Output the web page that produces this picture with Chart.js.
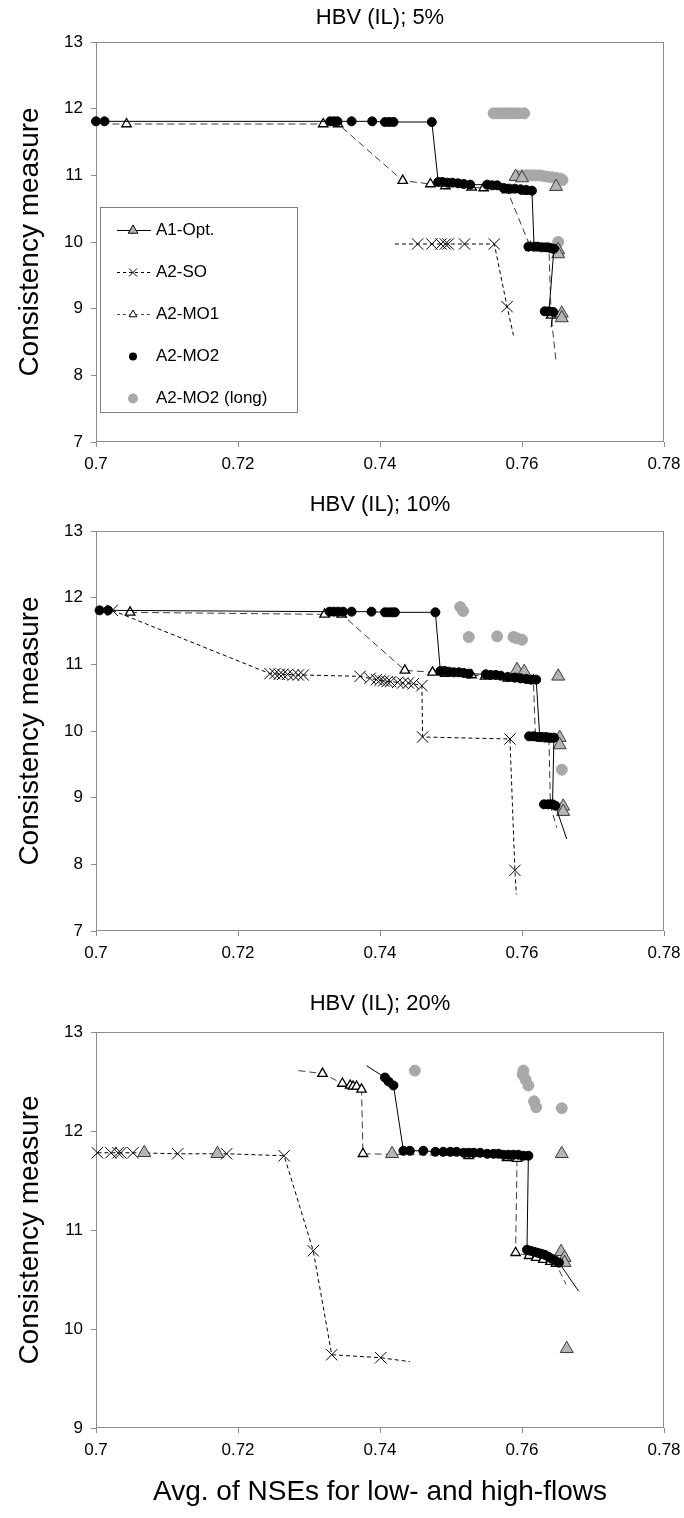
<!DOCTYPE html>
<html>
<head>
<meta charset="utf-8">
<title>HBV (IL) consistency</title>
<script src="https://cdn.jsdelivr.net/npm/chart.js@4.4.1/dist/chart.umd.min.js"></script>
<style>
  html, body { margin: 0; padding: 0; background: #fff; }
  body { width: 684px; height: 1518px; position: relative; overflow: hidden; }
  canvas { position: absolute; left: 0; }
</style>
</head>
<body>
<canvas id="c5" width="684" height="480" style="top:0px"></canvas>
<canvas id="c10" width="684" height="490" style="top:480px"></canvas>
<canvas id="c20" width="684" height="548" style="top:970px"></canvas>
<script>
// axis ticks and names
const X_TICKS = [0.7, 0.72, 0.74, 0.76, 0.78];
const Y_TICKS_LOW = [7, 8, 9, 10, 11, 12, 13];
const Y_TICKS_HIGH = [9, 10, 11, 12, 13];
const NAMES = ['A1-Opt.', 'A2-SO', 'A2-MO1', 'A2-MO2', 'A2-MO2 (long)'];
const TITLES = ['HBV (IL); 5%', 'HBV (IL); 10%', 'HBV (IL); 20%'];

// ---- HBV (IL); 5% ----  [avg NSE, consistency]
const P5_OPT = [[0.7591,10.98],[0.7600,10.96],[0.7648,10.83],[0.7651,9.88],[0.7651,9.82],[0.7656,8.93],[0.7656,8.86]];
const P5_SO = [[0.7421,9.97],[0.7453,9.97],[0.7473,9.97],[0.7486,9.97],[0.7492,9.97],[0.7496,9.97],[0.7519,9.97],[0.7561,9.97],[0.7579,9.03],[0.7588,8.60]];
const P5_MO1 = [[0.7023,11.77],[0.7043,11.77],[0.7320,11.77],[0.7341,11.77],[0.7432,10.92],[0.7471,10.87],[0.7492,10.84],[0.7529,10.82],[0.7546,10.81],[0.7605,10.76],[0.7579,10.78],[0.7612,9.92],[0.7638,9.90],[0.7641,8.90],[0.7648,8.20]];
const P5_MO2 = [[0.7000,11.81],[0.7012,11.81],[0.7330,11.81],[0.7335,11.81],[0.7340,11.81],[0.7360,11.81],[0.7389,11.81],[0.7407,11.80],[0.7413,11.80],[0.7419,11.80],[0.7473,11.80],[0.7482,10.90],[0.7488,10.90],[0.7495,10.89],[0.7502,10.89],[0.7510,10.88],[0.7518,10.87],[0.7527,10.86],[0.7551,10.86],[0.7558,10.85],[0.7565,10.85],[0.7574,10.81],[0.7582,10.80],[0.7590,10.80],[0.7598,10.79],[0.7606,10.78],[0.7614,10.77],[0.7617,9.93],[0.7609,9.93],[0.7622,9.93],[0.7628,9.92],[0.7634,9.92],[0.7640,9.91],[0.7645,9.90],[0.7638,8.96],[0.7632,8.96],[0.7644,8.95],[0.7641,8.72]];
const P5_LONG = [[0.7560,11.93],[0.7566,11.93],[0.7572,11.93],[0.7578,11.93],[0.7584,11.93],[0.7590,11.93],[0.7596,11.93],[0.7603,11.93],[0.7594,10.99],[0.7600,11.00],[0.7606,11.00],[0.7612,11.00],[0.7618,11.00],[0.7624,11.00],[0.7630,10.99],[0.7636,10.98],[0.7642,10.97],[0.7648,10.96],[0.7654,10.95],[0.7657,10.93],[0.7651,10.00]];
// indices that only bend a line and carry no marker
const P5_SO_BARE = [0, 9];
const P5_MO1_BARE = [0, 14];
const P5_MO2_BARE = [37];

// ---- HBV (IL); 10% ----
const P10_OPT = [[0.7593,10.92],[0.7603,10.89],[0.7651,10.82],[0.7653,9.90],[0.7653,9.79],[0.7658,8.87],[0.7658,8.79]];
const P10_SO = [[0.7023,11.81],[0.7245,10.86],[0.7252,10.86],[0.7258,10.85],[0.7263,10.85],[0.7270,10.85],[0.7278,10.84],[0.7285,10.84],[0.7292,10.84],[0.7372,10.82],[0.7386,10.79],[0.7395,10.77],[0.7400,10.76],[0.7405,10.75],[0.7410,10.74],[0.7415,10.74],[0.7425,10.73],[0.7432,10.72],[0.7440,10.72],[0.7447,10.71],[0.7459,10.68],[0.7460,9.91],[0.7583,9.88],[0.7590,7.91],[0.7592,7.55]];
const P10_MO1 = [[0.7048,11.78],[0.7322,11.75],[0.7346,11.75],[0.7435,10.91],[0.7474,10.88],[0.7492,10.86],[0.7529,10.84],[0.7548,10.82],[0.7580,10.79],[0.7605,10.77],[0.7616,10.76],[0.7619,9.90],[0.7638,9.88],[0.7640,8.88],[0.7649,8.55]];
const P10_MO2 = [[0.7005,11.81],[0.7017,11.81],[0.7329,11.79],[0.7335,11.79],[0.7341,11.79],[0.7348,11.79],[0.7360,11.79],[0.7388,11.79],[0.7407,11.78],[0.7412,11.78],[0.7417,11.78],[0.7421,11.78],[0.7478,11.78],[0.7485,10.90],[0.7491,10.90],[0.7497,10.89],[0.7504,10.88],[0.7511,10.88],[0.7518,10.87],[0.7525,10.86],[0.7549,10.85],[0.7556,10.84],[0.7563,10.84],[0.7570,10.83],[0.7580,10.81],[0.7590,10.80],[0.7598,10.79],[0.7606,10.78],[0.7613,10.77],[0.7620,10.77],[0.7625,9.91],[0.7610,9.92],[0.7616,9.92],[0.7622,9.91],[0.7628,9.91],[0.7634,9.91],[0.7640,9.90],[0.7645,9.90],[0.7643,8.90],[0.7637,8.90],[0.7631,8.90],[0.7647,8.88],[0.7663,8.38]];
const P10_LONG = [[0.7513,11.86],[0.7517,11.80],[0.7525,11.41],[0.7565,11.42],[0.7588,11.41],[0.7593,11.39],[0.7600,11.37],[0.7656,9.42]];
const P10_SO_BARE = [24];
const P10_MO1_BARE = [14];
const P10_MO2_BARE = [42];

// ---- HBV (IL); 20% ----
const P20_OPT = [[0.7068,11.78],[0.7171,11.77],[0.7417,11.77],[0.7656,11.77],[0.7655,10.78],[0.7660,10.72],[0.7660,10.67],[0.7663,9.80]];
const P20_SO = [[0.7002,11.78],[0.7021,11.78],[0.7031,11.78],[0.7035,11.78],[0.7052,11.78],[0.7115,11.77],[0.7184,11.77],[0.7265,11.75],[0.7306,10.79],[0.7332,9.74],[0.7401,9.71],[0.7442,9.67]];
const P20_MO1 = [[0.7285,12.61],[0.7319,12.58],[0.7347,12.48],[0.7358,12.46],[0.7362,12.45],[0.7367,12.45],[0.7374,12.42],[0.7376,11.77],[0.7525,11.75],[0.7579,11.73],[0.7593,11.72],[0.7591,10.77],[0.7610,10.74],[0.7620,10.72],[0.7630,10.70],[0.7640,10.68],[0.7648,10.66],[0.7662,10.45]];
const P20_MO2 = [[0.7381,12.66],[0.7407,12.54],[0.7412,12.50],[0.7419,12.46],[0.7433,11.80],[0.7442,11.80],[0.7461,11.80],[0.7478,11.79],[0.7489,11.79],[0.7499,11.79],[0.7508,11.79],[0.7518,11.78],[0.7525,11.78],[0.7532,11.78],[0.7541,11.78],[0.7551,11.77],[0.7560,11.77],[0.7567,11.77],[0.7574,11.76],[0.7581,11.76],[0.7588,11.76],[0.7595,11.76],[0.7602,11.75],[0.7609,11.75],[0.7607,10.80],[0.7612,10.79],[0.7617,10.78],[0.7622,10.77],[0.7627,10.76],[0.7632,10.75],[0.7637,10.73],[0.7642,10.71],[0.7647,10.69],[0.7652,10.67],[0.7680,10.38]];
const P20_LONG = [[0.7449,12.61],[0.7602,12.61],[0.7601,12.57],[0.7605,12.52],[0.7609,12.46],[0.7617,12.30],[0.7620,12.24],[0.7656,12.23]];
const P20_SO_BARE = [11];
const P20_MO1_BARE = [0, 17];
const P20_MO2_BARE = [0, 34];

const FONT = '"Liberation Sans", Arial, Helvetica, sans-serif';
Chart.defaults.font.family = FONT;
Chart.defaults.color = '#000';

function toXY(list) {
  return list.map(p => ({ x: p[0], y: p[1] }));
}
function radii(list, r, bare) {
  return list.map((p, i) => (bare.indexOf(i) >= 0 ? 0 : r));
}

function buildSets(s) {
  const common = { clip: false, tension: 0, fill: false, pointHitRadius: 0 };
  return [
    Object.assign({
      label: NAMES[0], data: toXY(s.opt), showLine: false,
      pointStyle: 'triangle', pointRadius: 7.5,
      pointBackgroundColor: '#b4b4b4', pointBorderColor: '#3a3a3a', pointBorderWidth: 1, order: 1
    }, common),
    Object.assign({
      label: NAMES[1], data: toXY(s.so), showLine: true,
      borderColor: '#000', borderWidth: 1, borderDash: [4, 3],
      pointStyle: 'crossRot', pointRadius: radii(s.so, 8, s.soBare),
      pointBorderColor: '#000', pointBorderWidth: 1, order: 2
    }, common),
    Object.assign({
      label: NAMES[2], data: toXY(s.mo1), showLine: true,
      borderColor: '#3c3c3c', borderWidth: 1, borderDash: [7, 4],
      pointStyle: 'triangle', pointRadius: radii(s.mo1, 5.5, s.mo1Bare),
      pointBackgroundColor: '#fff', pointBorderColor: '#000', pointBorderWidth: 1.3, order: 3
    }, common),
    Object.assign({
      label: NAMES[3], data: toXY(s.mo2), showLine: true,
      borderColor: '#000', borderWidth: 1,
      pointStyle: 'circle', pointRadius: radii(s.mo2, 4.5, s.mo2Bare),
      pointBackgroundColor: '#000', pointBorderColor: '#000', pointBorderWidth: 1, order: 0
    }, common),
    Object.assign({
      label: NAMES[4], data: toXY(s.long), showLine: false,
      pointStyle: 'circle', pointRadius: 5.5,
      pointBackgroundColor: '#a8a8a8', pointBorderColor: '#a8a8a8', pointBorderWidth: 1, order: 4
    }, common)
  ];
}

// grey box round the plot area
const frame = {
  id: 'frame',
  beforeDatasetsDraw(chart) {
    const { ctx, chartArea: a } = chart;
    ctx.save();
    ctx.strokeStyle = '#8c8c8c';
    ctx.lineWidth = 1;
    ctx.strokeRect(Math.round(a.left) + 0.5, Math.round(a.top) + 0.5,
                   Math.round(a.width) - 1, Math.round(a.height) - 1);
    ctx.restore();
  }
};

// boxed legend inside the first panel
const keyBox = {
  id: 'keyBox',
  afterDatasetsDraw(chart, args, opts) {
    if (!opts.show) return;
    const ctx = chart.ctx;
    const left = 100, top = 207, w = 197, h = 205, step = 42;
    ctx.save();
    ctx.fillStyle = '#fff';
    ctx.fillRect(left, top, w, h);
    ctx.strokeStyle = '#7f7f7f';
    ctx.lineWidth = 1;
    ctx.strokeRect(left + 0.5, top + 0.5, w, h);
    ctx.font = '17px ' + FONT;
    ctx.textBaseline = 'middle';
    chart.data.datasets.forEach((ds, i) => {
      const y = Math.round(top + 23 + i * step) + 0.5;
      const cx = 133;
      ctx.lineWidth = 1;
      if (i < 3) {
        ctx.strokeStyle = i === 2 ? '#555' : '#000';
        ctx.setLineDash(i === 0 ? [] : [3, 3]);
        ctx.beginPath();
        ctx.moveTo(117, y);
        ctx.lineTo(151, y);
        ctx.stroke();
        ctx.setLineDash([]);
      }
      ctx.strokeStyle = '#000';
      ctx.fillStyle = Array.isArray(ds.pointBackgroundColor) ? ds.pointBackgroundColor[0] : ds.pointBackgroundColor;
      if (ds.pointStyle === 'triangle') {
        const r = i === 0 ? 5.5 : 4.5;
        ctx.beginPath();
        ctx.moveTo(cx, y - r);
        ctx.lineTo(cx + r * 0.866, y + r * 0.5);
        ctx.lineTo(cx - r * 0.866, y + r * 0.5);
        ctx.closePath();
        ctx.fill();
        ctx.stroke();
      } else if (ds.pointStyle === 'crossRot') {
        const r = 4;
        ctx.beginPath();
        ctx.moveTo(cx - r, y - r); ctx.lineTo(cx + r, y + r);
        ctx.moveTo(cx + r, y - r); ctx.lineTo(cx - r, y + r);
        ctx.stroke();
      } else {
        ctx.beginPath();
        ctx.arc(cx, y, i === 3 ? 4 : 5, 0, Math.PI * 2);
        ctx.fill();
      }
      ctx.fillStyle = '#000';
      ctx.fillText(ds.label, 156, y);
    });
    ctx.restore();
  }
};

function drawPanel(id, title, sets, yTicks, m) {
  return new Chart(document.getElementById(id), {
    type: 'scatter',
    data: { datasets: sets },
    options: {
      responsive: false,
      animation: false,
      events: [],
      layout: { padding: { left: 0, right: 20, top: 0, bottom: 0 } },
      plugins: {
        legend: { display: false },
        tooltip: { enabled: false },
        title: {
          display: true, text: title, fullSize: false, color: '#000',
          font: { size: 22, weight: 'normal' },
          padding: { top: m.tTop, bottom: m.tBottom }
        },
        keyBox: { show: !!m.legend }
      },
      scales: {
        x: {
          type: 'linear', position: 'bottom', min: 0.7, max: 0.78,
          afterBuildTicks: s => { s.ticks = X_TICKS.map(v => ({ value: v })); },
          afterFit: s => { s.height = m.xh; s.paddingLeft = 0; s.paddingRight = 0; },
          border: { display: false },
          grid: { drawOnChartArea: false, drawTicks: true, tickLength: 5, color: '#8c8c8c' },
          ticks: { padding: 7, font: { size: 17 }, color: '#000', maxRotation: 0,
                   callback: v => String(+v.toFixed(2)) },
          title: {
            display: !!m.xTitle, text: m.xTitle || '', color: '#000',
            font: { size: 28 }, padding: { top: 0, bottom: 9 }
          }
        },
        y: {
          type: 'linear', position: 'left', min: yTicks[0], max: yTicks[yTicks.length - 1],
          afterBuildTicks: s => { s.ticks = yTicks.map(v => ({ value: v })); },
          afterFit: s => { s.width = 96; s.paddingTop = 0; s.paddingBottom = 0; },
          border: { display: false },
          grid: { drawOnChartArea: false, drawTicks: true, tickLength: 5, color: '#8c8c8c' },
          ticks: { padding: 8, font: { size: 17 }, color: '#000' },
          title: {
            display: true, text: 'Consistency measure', color: '#000',
            font: { size: 28 }, padding: { top: 13, bottom: 0 }
          }
        }
      }
    },
    plugins: [frame, keyBox]
  });
}

// plot areas on the page: 42-442, 531-931, 1032-1428
drawPanel('c5', TITLES[0], buildSets({
  opt: P5_OPT, so: P5_SO, soBare: P5_SO_BARE, mo1: P5_MO1, mo1Bare: P5_MO1_BARE,
  mo2: P5_MO2, mo2Bare: P5_MO2_BARE, long: P5_LONG
}), Y_TICKS_LOW, { tTop: 5, tBottom: 10.6, xh: 38, legend: true });

drawPanel('c10', TITLES[1], buildSets({
  opt: P10_OPT, so: P10_SO, soBare: P10_SO_BARE, mo1: P10_MO1, mo1Bare: P10_MO1_BARE,
  mo2: P10_MO2, mo2Bare: P10_MO2_BARE, long: P10_LONG
}), Y_TICKS_LOW, { tTop: 12, tBottom: 12.6, xh: 39 });

drawPanel('c20', TITLES[2], buildSets({
  opt: P20_OPT, so: P20_SO, soBare: P20_SO_BARE, mo1: P20_MO1, mo1Bare: P20_MO1_BARE,
  mo2: P20_MO2, mo2Bare: P20_MO2_BARE, long: P20_LONG
}), Y_TICKS_HIGH, { tTop: 21, tBottom: 14.6, xh: 90, xTitle: 'Avg. of NSEs for low- and high-flows' });
</script>
</body>
</html>
